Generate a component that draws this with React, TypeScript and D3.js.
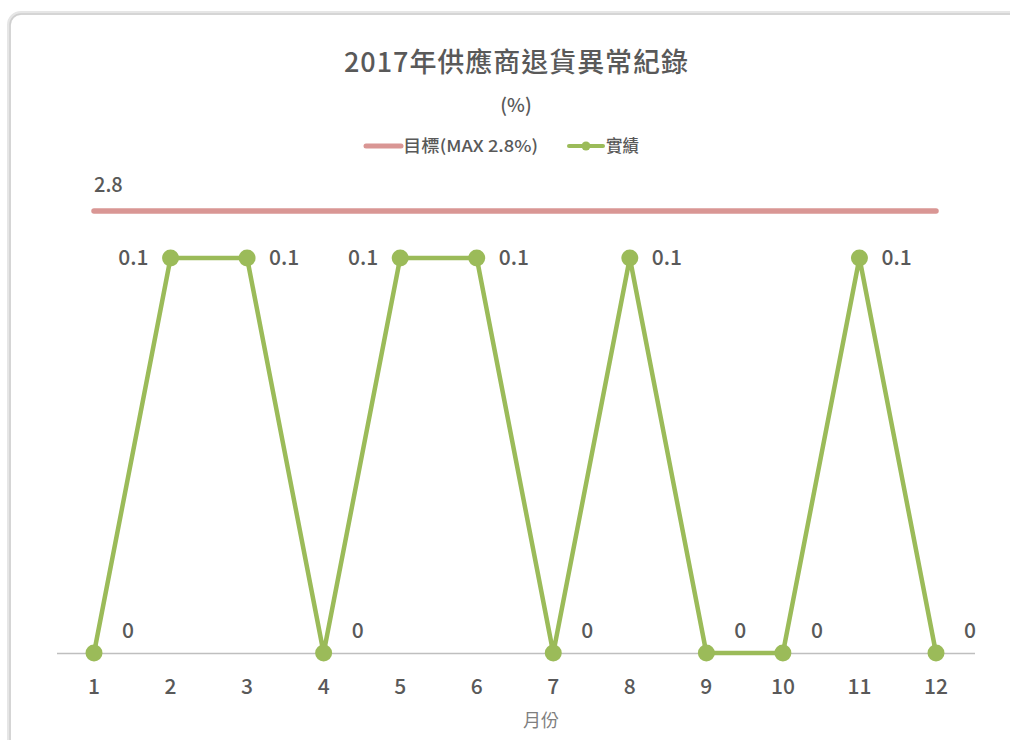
import React from "react";
import * as d3 from "d3";

const months = ["1", "2", "3", "4", "5", "6", "7", "8", "9", "10", "11", "12"];
const actual = [0, 0.1, 0.1, 0, 0.1, 0.1, 0, 0.1, 0, 0, 0.1, 0];
const target = [2.8, 2.8, 2.8, 2.8, 2.8, 2.8, 2.8, 2.8, 2.8, 2.8, 2.8, 2.8];
const labelSide = ["r", "l", "r", "r", "l", "r", "r", "r", "r", "r", "r", "r"];
const title = "2017年供應商退貨異常紀錄";
const subtitle = "(%)";
const xTitle = "月份";
const seriesNames = ["目標(MAX 2.8%)", "實績"];

const W = 1010;
const H = 740;
const FONT = "'Noto Sans CJK TC', 'Noto Sans', sans-serif";
const TXT = "#595959";
const GREEN = "#9bbb59";
const RED = "#d99694";

export default function App() {
  const x = d3.scalePoint<string>().domain(months).range([94, 936]);
  const yA = d3.scaleLinear().domain([0, 0.1]).range([653, 258]);
  const yT = d3.scaleLinear().domain([0, 2.8]).range([653, 211]);

  const lineA = d3
    .line<number>()
    .x((_, i) => x(months[i]) as number)
    .y((d) => yA(d));
  const lineT = d3
    .line<number>()
    .x((_, i) => x(months[i]) as number)
    .y((d) => yT(d));

  return (
    <svg
      width={W}
      height={H}
      style={{ position: "fixed", left: 0, top: 0, background: "#fff" }}
      fontFamily={FONT}
    >
      <rect x={0} y={0} width={W} height={H} fill="#fff" />
      <rect x={9} y={13} width={1100} height={800} rx={12} fill="none" stroke="#e6e6e6" strokeWidth={4} />
      <rect x={10} y={14} width={1100} height={800} rx={11} fill="none" stroke="#cfcfcf" strokeWidth={1.5} />

      <text x={516} y={72} textAnchor="middle" fontSize={27} fontWeight={500} fill={TXT}
        textLength={344} lengthAdjust="spacing">{title}</text>
      <text x={516} y={112} textAnchor="middle" fontSize={19} fontWeight={500} fill={TXT}>{subtitle}</text>

      {/* legend */}
      <line x1={366} x2={401} y1={146} y2={146} stroke={RED} strokeWidth={5} strokeLinecap="round" />
      <text x={403} y={152} fontSize={16.5} fontWeight={500} fill={TXT}
        textLength={135} lengthAdjust="spacingAndGlyphs">{seriesNames[0]}</text>
      <line x1={569} x2={603} y1={146} y2={146} stroke={GREEN} strokeWidth={4} strokeLinecap="round" />
      <circle cx={586} cy={146} r={4.5} fill={GREEN} />
      <text x={606} y={152} fontSize={16.5} fontWeight={500} fill={TXT}>{seriesNames[1]}</text>

      {/* axis */}
      <line x1={57} x2={975} y1={653.5} y2={653.5} stroke="#bfbfbf" strokeWidth={1.5} />
      {months.map((m) => (
        <text key={m} x={x(m)} y={694} textAnchor="middle" fontSize={21} fontWeight={500} fill={TXT}>{m}</text>
      ))}
      <text x={541} y={727} textAnchor="middle" fontSize={18} fill="#7f7f7f">{xTitle}</text>

      {/* target */}
      <path d={lineT(target) || ""} fill="none" stroke={RED} strokeWidth={5.5} strokeLinecap="round" />
      <text x={94} y={192} fontSize={20} fontWeight={500} fill={TXT}>{target[0]}</text>

      {/* actual */}
      <path d={lineA(actual) || ""} fill="none" stroke={GREEN} strokeWidth={4.5} strokeLinejoin="round" />
      {actual.map((v, i) => (
        <circle key={i} cx={x(months[i])} cy={yA(v)} r={8.5} fill={GREEN} />
      ))}
      {actual.map((v, i) => {
        const cx = x(months[i]) as number;
        const left = labelSide[i] === "l";
        const off = v > 0 ? 22 : 28;
        const lx = left ? cx - off : cx + off;
        const ly = v > 0 ? yA(v) + 7 : yA(v) - 15;
        return (
          <text key={"l" + i} x={lx} y={ly} textAnchor={left ? "end" : "start"} fontSize={21} fontWeight={500} fill={TXT}>
            {v}
          </text>
        );
      })}
    </svg>
  );
}
